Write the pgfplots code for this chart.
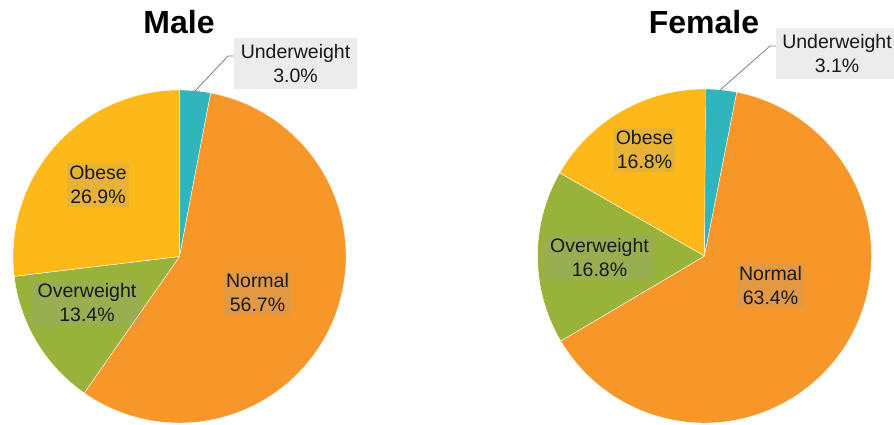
\documentclass[border=0pt]{standalone}
\usepackage{pgfplots}
\pgfplotsset{compat=1.18}
\usepackage{fontspec}
\setmainfont{Liberation Sans}
\definecolor{cUnder}{RGB}{49,181,189}
\definecolor{cNormal}{RGB}{247,150,41}
\definecolor{cOver}{RGB}{152,178,58}
\definecolor{cObese}{RGB}{252,185,25}
\definecolor{cBox}{RGB}{160,160,160}
\definecolor{cLbl}{RGB}{236,236,236}
\definecolor{cLead}{RGB}{128,128,128}
% Values (percent), drawn clockwise from 12 o'clock:
% Male:   Underweight 3.0, Normal 56.7, Overweight 13.4, Obese 26.9
% Female: Underweight 3.1, Normal 63.4, Overweight 16.8, Obese 16.8
\newcommand{\slice}[6]{% center x, center y, radius, start %, value %, colour
  \fill[#6, draw=white, line width=0.4pt] (axis cs:#1,#2) -- ++({90-3.6*(#4)}:#3pt)
    arc[start angle={90-3.6*(#4)}, end angle={90-3.6*(#4+#5)}, radius=#3pt] -- cycle;}
\tikzset{lbl/.style={fill=cBox, fill opacity=0.22, text opacity=1, align=center,
  inner xsep=2pt, inner ysep=3pt, font=\fontsize{19.5}{24}\selectfont, text=black!90}}
\begin{document}
\begin{tikzpicture}
\begin{axis}[width=894pt, height=425pt, scale only axis,
  xmin=0, xmax=894, ymin=0, ymax=425, y dir=reverse, hide axis, clip=false]
% Male pie
\slice{179.5}{256.5}{166.5}{0}{3.0}{cUnder}
\slice{179.5}{256.5}{166.5}{3.0}{56.7}{cNormal}
\slice{179.5}{256.5}{166.5}{59.7}{13.4}{cOver}
\slice{179.5}{256.5}{166.5}{73.1}{26.9}{cObese}
% Female pie
\slice{704.5}{256}{167}{0}{3.1}{cUnder}
\slice{704.5}{256}{167}{3.1}{63.4}{cNormal}
\slice{704.5}{256}{167}{66.5}{16.8}{cOver}
\slice{704.5}{256}{167}{83.3}{16.8}{cObese}
% titles
\node[font=\fontsize{32}{36}\selectfont\bfseries] at (axis cs:179,22) {Male};
\node[font=\fontsize{32}{36}\selectfont\bfseries] at (axis cs:704,22) {Female};
% male labels
\draw[cLead, line width=0.8pt] (axis cs:195,91) -- (axis cs:228,56) -- (axis cs:235,56);
\node[lbl, fill=cLbl, fill opacity=1, minimum width=123pt, minimum height=51pt] at (axis cs:295.5,63.5) {Underweight\\3.0\%};
\node[lbl] at (axis cs:98,185) {Obese\\26.9\%};
\node[lbl, minimum width=110pt] at (axis cs:87,303) {Overweight\\13.4\%};
\node[lbl] at (axis cs:257.5,293) {Normal\\56.7\%};
% female labels
\draw[cLead, line width=0.8pt] (axis cs:720,90) -- (axis cs:770,46) -- (axis cs:777,46);
\node[lbl, fill=cLbl, fill opacity=1, minimum width=122pt, minimum height=51pt] at (axis cs:837,54) {Underweight\\3.1\%};
\node[lbl] at (axis cs:644.5,150) {Obese\\16.8\%};
\node[lbl, minimum width=109pt] at (axis cs:599.5,257.5) {Overweight\\16.8\%};
\node[lbl] at (axis cs:770.5,286) {Normal\\63.4\%};
\end{axis}
\pgfresetboundingbox
\useasboundingbox (current axis.south west) rectangle (current axis.north east);
\end{tikzpicture}
\end{document}
